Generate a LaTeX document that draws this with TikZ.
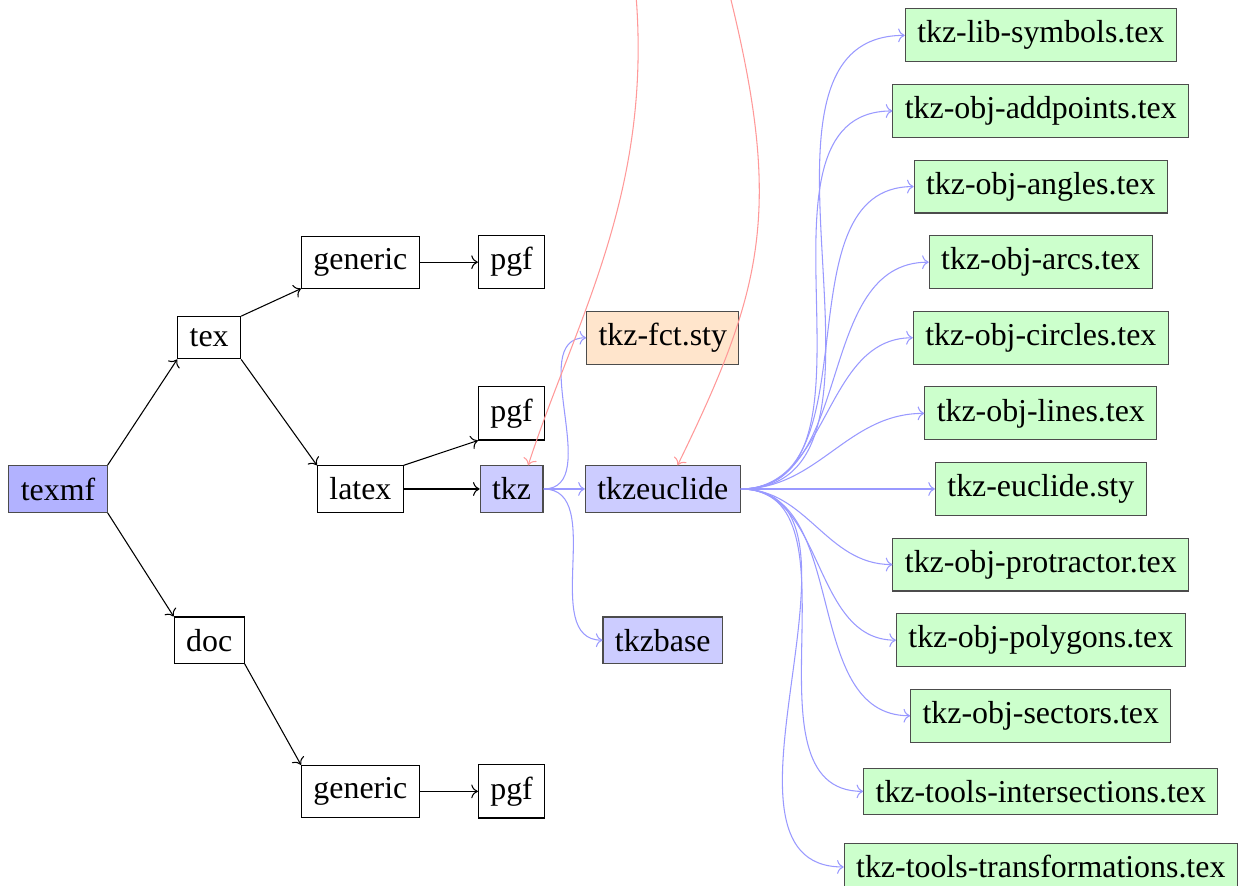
\documentclass[tikz,border=0pt]{standalone}
\usepackage{fontspec}
\setmainfont{Liberation Serif}
\usetikzlibrary{arrows.meta, positioning}

\begin{document}
\begin{tikzpicture}[
                  font    = \fontsize{12pt}{14pt}\selectfont,
                  inner sep = 4.5pt,
                  dir/.style   = {draw, fill=white},
                  root/.style  = {draw=black!70, fill=blue!30},
                  pkg/.style   = {draw=black!70, fill=blue!20},
                  sty/.style   = {draw=black!70, fill=orange!20},
                  src/.style   = {draw=black!70, fill=green!20},
                  tree/.style  = {->},
                  dep/.style   = {->, blue!40},
                  req/.style   = {->, red!40}
            ]
            \useasboundingbox (-0.767,-5.251) rectangle (15.675,6.468);
            \clip (-0.767,-5.251) rectangle (15.675,6.468);

            % stablo direktorija
            \node[root] (texmf)    at (0,0)  {texmf};
            \node[dir]  (tex)      at (2,2)  {tex};
            \node[dir]  (doc)      at (2,-2) {doc};
            \node[dir]  (gentex)   at (4,3)  {generic};
            \node[dir]  (latex)    at (4,0)  {latex};
            \node[dir]  (gendoc)   at (4,-4) {generic};
            \node[dir]  (pgftex)   at (6,3)  {pgf};
            \node[dir]  (pgflatex) at (6,1)  {pgf};
            \node[pkg]  (tkz)      at (6,0)  {tkz};
            \node[dir]  (pgfdoc)   at (6,-4) {pgf};

            \draw[tree] (texmf.north east) -- (tex.south west);
            \draw[tree] (texmf.south east) -- (doc.north west);
            \draw[tree] (tex.north east)   -- (gentex.south west);
            \draw[tree] (tex.south east)   -- (latex.north west);
            \draw[tree] (gentex.east)      -- (pgftex.west);
            \draw[tree] (latex.north east) -- (pgflatex.south west);
            \draw[tree] (latex.east)       -- (tkz.west);
            \draw[tree] (doc.south east)   -- (gendoc.north west);
            \draw[tree] (gendoc.east)      -- (pgfdoc.west);

            % paketi unutar tkz
            \node[sty] (fct)     at (8,2)  {tkz-fct.sty};
            \node[pkg] (euclide) at (8,0)  {tkzeuclide};
            \node[pkg] (base)    at (8,-2) {tkzbase};

            \draw[dep] (tkz.east) to[out=0, in=180] (fct.west);
            \draw[dep] (tkz.east) to[out=0, in=180] (euclide.west);
            \draw[dep] (tkz.east) to[out=0, in=180] (base.west);

            % datoteke tkzeuclide
            \foreach \y/\file [count=\i] in {6/tkz-lib-symbols.tex, 5/tkz-obj-addpoints.tex,
                  4/tkz-obj-angles.tex, 3/tkz-obj-arcs.tex, 2/tkz-obj-circles.tex,
                  1/tkz-obj-lines.tex, 0/tkz-euclide.sty, -1/tkz-obj-protractor.tex,
                  -2/tkz-obj-polygons.tex, -3/tkz-obj-sectors.tex,
                  -4/tkz-tools-intersections.tex, -5/tkz-tools-transformations.tex} {
                  \node[src] (file\i) at (13,\y) {\file};
                  \draw[dep] (euclide.east) to[out=0, in=180] (file\i.west);
            }

            % veze odozgo (izvan slike)
            \coordinate (upA) at (7.64,6.6);
            \coordinate (upB) at (8.87,6.6);
            \draw[req] (upA) .. controls +(-85:2.7) and +(72:2.0) .. (tkz.55);
            \draw[req] (upB) .. controls +(-76:3.0) and +(64:2.6) .. (euclide.58);
      \end{tikzpicture}
\end{document}
